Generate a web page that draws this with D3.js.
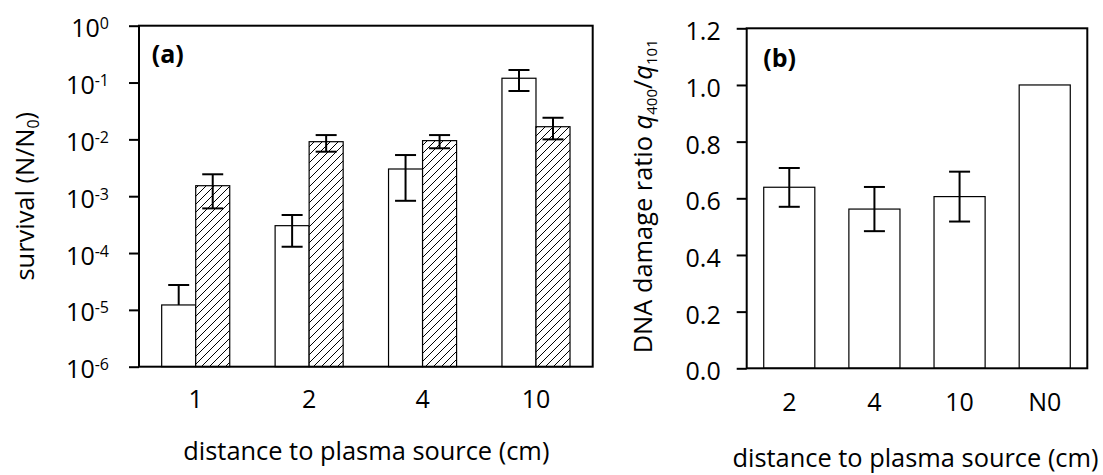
<!DOCTYPE html>
<html>
<head>
<meta charset="utf-8">
<script src="https://cdn.jsdelivr.net/npm/d3@7/dist/d3.min.js"></script>
<style>
  html, body { margin: 0; padding: 0; background: #fff; }
  svg { display: block; font-family: "Open Sans", sans-serif; }
</style>
</head>
<body>
<svg id="chart" width="1103" height="475"></svg>
<script>
// panel (a) - survival vs distance, log scale
const catsA = ["1", "2", "4", "10"];
const openVals = [1.22e-5, 3.03e-4, 3.01e-3, 0.119];
const openHi = [2.74e-5, 4.67e-4, 5.3e-3, 0.166];
const openLo = [null, 1.29e-4, 8.3e-4, 0.071];
const hatchVals = [1.53e-3, 9.1e-3, 9.5e-3, 0.0167];
const hatchHi = [2.43e-3, 1.19e-2, 1.19e-2, 0.024];
const hatchLo = [6.1e-4, 6.07e-3, 6.97e-3, 0.01];
const expTicks = [0, -1, -2, -3, -4, -5, -6];

// panel (b) - DNA damage ratio
const catsB = ["2", "4", "10", "N0"];
const ratioVals = [0.639, 0.562, 0.606, 1.0];
const ratioHi = [0.707, 0.640, 0.694, null];
const ratioLo = [0.570, 0.484, 0.518, null];
const ratioTicks = [0, 0.2, 0.4, 0.6, 0.8, 1.0, 1.2];

const svg = d3.select("#chart");
const TICK_FS = 25, TITLE_FS = 25.4, CAP = 21;

// hatch pattern
const defs = svg.append("defs");
const pat = defs.append("pattern")
  .attr("id", "hatch")
  .attr("patternUnits", "userSpaceOnUse")
  .attr("width", 8).attr("height", 8);
pat.append("rect").attr("width", 8).attr("height", 8).attr("fill", "#fff");
pat.append("path")
  .attr("d", "M0,8 L8,0 M-2,2 L2,-2 M6,10 L10,6")
  .attr("stroke", "#000").attr("stroke-width", 1);

function errorBar(g, cx, yTop, yBot) {
  g.append("line").attr("x1", cx).attr("x2", cx).attr("y1", yTop).attr("y2", yBot)
    .attr("stroke", "#000").attr("stroke-width", 2);
}
function cap(g, cx, y) {
  g.append("line").attr("x1", cx - CAP / 2).attr("x2", cx + CAP / 2).attr("y1", y).attr("y2", y)
    .attr("stroke", "#000").attr("stroke-width", 2);
}

// ---------- panel (a) ----------
const a = { left: 139, right: 592.7, top: 25.7, bottom: 366.7 };
const xA = d3.scaleBand().domain(catsA).range([a.left, a.right]).paddingInner(0.4).paddingOuter(0.2);
const xA1 = d3.scaleBand().domain(["open", "hatch"]).range([0, xA.bandwidth()]);
const yA = d3.scaleLog().domain([1e-6, 1]).range([a.bottom, a.top]);

const gA = svg.append("g");
const rowsA = catsA.map((c, i) => [
  { c, k: "open", v: openVals[i], hi: openHi[i], lo: openLo[i] },
  { c, k: "hatch", v: hatchVals[i], hi: hatchHi[i], lo: hatchLo[i] }
]).flat();

gA.selectAll("rect.bar").data(rowsA).join("rect")
  .attr("class", "bar")
  .attr("x", d => xA(d.c) + xA1(d.k))
  .attr("width", xA1.bandwidth())
  .attr("y", d => yA(d.v))
  .attr("height", d => a.bottom - yA(d.v))
  .attr("fill", d => d.k === "open" ? "#fff" : "url(#hatch)")
  .attr("stroke", "#000").attr("stroke-width", 1.2);

rowsA.forEach(d => {
  const cx = xA(d.c) + xA1(d.k) + xA1.bandwidth() / 2;
  const yHi = yA(d.hi);
  const yLo = d.lo == null ? yA(d.v) : yA(d.lo);
  errorBar(gA, cx, yHi, yLo);
  cap(gA, cx, yHi);
  if (d.lo != null) cap(gA, cx, yLo);
});

// frame
gA.append("rect").attr("x", a.left).attr("y", a.top)
  .attr("width", a.right - a.left).attr("height", a.bottom - a.top)
  .attr("fill", "none").attr("stroke", "#000").attr("stroke-width", 2);

const axA = gA.append("g").attr("transform", `translate(${a.left},0)`)
  .call(d3.axisLeft(yA).tickValues(expTicks.map(e => Math.pow(10, e))).tickSize(10).tickFormat(() => ""));
axA.select(".domain").remove();
axA.selectAll(".tick line").attr("stroke", "#000").attr("stroke-width", 2);
axA.selectAll(".tick").each(function (d) {
  const t = d3.select(this).append("text")
    .attr("x", -30).attr("y", 11).attr("dy", 0)
    .attr("text-anchor", "end").attr("fill", "#000")
    .style("font-size", TICK_FS + "px").style("font-family", "Open Sans");
  t.append("tspan").text("10");
  t.append("tspan").attr("dy", -8).style("font-size", "16px").text(Math.round(Math.log10(d)));
});

const xaxA = gA.append("g").attr("transform", `translate(0,${a.bottom})`)
  .call(d3.axisBottom(xA).tickSize(0).tickPadding(0));
xaxA.select(".domain").remove();
xaxA.selectAll(".tick text")
  .attr("y", 41.6).attr("dy", 0).attr("fill", "#000")
  .style("font-size", TICK_FS + "px").style("font-family", "Open Sans");

gA.append("text").attr("x", 151.7).attr("y", 62.7)
  .style("font-size", "25px").style("font-weight", "bold").text("(a)");

gA.append("text").attr("x", (a.left + a.right) / 2 + 0.5).attr("y", 460)
  .attr("text-anchor", "middle").style("font-size", TITLE_FS + "px")
  .text("distance to plasma source (cm)");

const ytA = gA.append("text")
  .attr("transform", `translate(34,${(a.top + a.bottom) / 2}) rotate(-90)`)
  .attr("text-anchor", "middle").style("font-size", TITLE_FS + "px");
ytA.append("tspan").text("survival (N/N");
ytA.append("tspan").attr("dy", 5).style("font-size", "16px").text("0");
ytA.append("tspan").attr("dy", -5).text(")");

// ---------- panel (b) ----------
const b = { left: 746.7, right: 1087.3, top: 28.3, bottom: 368.3 };
const xB = d3.scaleBand().domain(catsB).range([b.left, b.right]).paddingInner(0.4).paddingOuter(0.2);
const yB = d3.scaleLinear().domain([0, 1.2]).range([b.bottom, b.top]);
const gB = svg.append("g");
const rowsB = catsB.map((c, i) => ({ c, v: ratioVals[i], hi: ratioHi[i], lo: ratioLo[i] }));

gB.selectAll("rect.bar").data(rowsB).join("rect")
  .attr("class", "bar")
  .attr("x", d => xB(d.c))
  .attr("width", xB.bandwidth())
  .attr("y", d => yB(d.v))
  .attr("height", d => b.bottom - yB(d.v))
  .attr("fill", "#fff")
  .attr("stroke", "#000").attr("stroke-width", 1.2);

rowsB.filter(d => d.hi != null).forEach(d => {
  const cx = xB(d.c) + xB.bandwidth() / 2;
  errorBar(gB, cx, yB(d.hi), yB(d.lo));
  cap(gB, cx, yB(d.hi));
  cap(gB, cx, yB(d.lo));
});

gB.append("rect").attr("x", b.left).attr("y", b.top)
  .attr("width", b.right - b.left).attr("height", b.bottom - b.top)
  .attr("fill", "none").attr("stroke", "#000").attr("stroke-width", 2);

const axB = gB.append("g").attr("transform", `translate(${b.left},0)`)
  .call(d3.axisLeft(yB).tickValues(ratioTicks).tickSize(10).tickFormat(d3.format(".1f")));
axB.select(".domain").remove();
axB.selectAll(".tick line").attr("stroke", "#000").attr("stroke-width", 2);
axB.selectAll(".tick text")
  .attr("x", -26).attr("y", 11.5).attr("dy", 0).attr("fill", "#000")
  .style("font-size", TICK_FS + "px").style("font-family", "Open Sans");

const xaxB = gB.append("g").attr("transform", `translate(0,${b.bottom})`)
  .call(d3.axisBottom(xB).tickSize(0).tickPadding(0));
xaxB.select(".domain").remove();
xaxB.selectAll(".tick text")
  .attr("y", 42.4).attr("dy", 0).attr("fill", "#000")
  .style("font-size", TICK_FS + "px").style("font-family", "Open Sans");

gB.append("text").attr("x", 763.3).attr("y", 66.7)
  .style("font-size", "25px").style("font-weight", "bold").text("(b)");

gB.append("text").attr("x", 915.5).attr("y", 467)
  .attr("text-anchor", "middle").style("font-size", TITLE_FS + "px")
  .text("distance to plasma source (cm)");

const ytB = gB.append("text")
  .attr("transform", `translate(651.7,${(b.top + b.bottom) / 2 - 2}) rotate(-90)`)
  .attr("text-anchor", "middle").style("font-size", TITLE_FS + "px");
ytB.append("tspan").text("DNA damage ratio ");
ytB.append("tspan").style("font-style", "italic").text("q");
ytB.append("tspan").attr("dy", 5).style("font-size", "15px").text("400");
ytB.append("tspan").attr("dy", -5).text("/");
ytB.append("tspan").style("font-style", "italic").text("q");
ytB.append("tspan").attr("dy", 5).style("font-size", "15px").text("101");
</script>
</body>
</html>
